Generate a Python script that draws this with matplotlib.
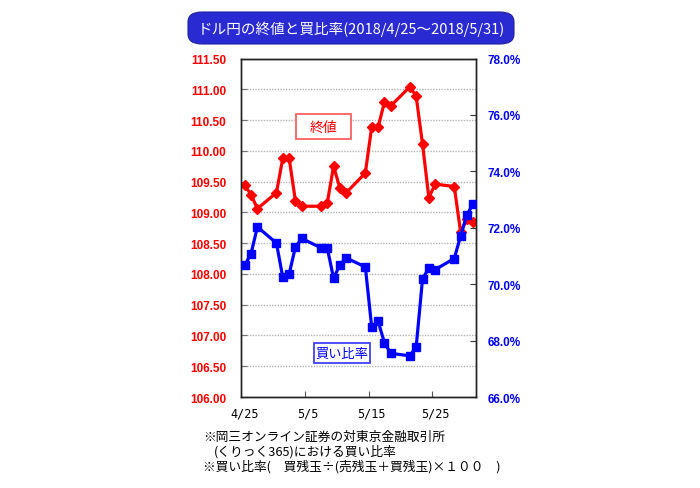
import numpy as np
import matplotlib
matplotlib.use("Agg")
import matplotlib.pyplot as plt
from matplotlib.patches import FancyBboxPatch, Rectangle
from matplotlib.ticker import MultipleLocator, FixedLocator, FixedFormatter

plt.rcParams['font.family'] = ['Noto Sans CJK JP', 'DejaVu Sans']

# days since 4/25 (trading days only)
days = [0, 1, 2, 5, 6, 7, 8, 9, 12, 13, 14, 15, 16, 19, 20, 21, 22, 23,
        26, 27, 28, 29, 30, 33, 34, 35, 36]
close = [109.44, 109.29, 109.06, 109.32, 109.88, 109.88, 109.18, 109.10, 109.10,
         109.15, 109.75, 109.39, 109.32, 109.64, 110.39, 110.38, 110.79, 110.73,
         111.04, 110.89, 110.11, 109.24, 109.46, 109.42, 108.68, 108.89, 108.84]
buy_ratio = [70.67, 71.08, 72.03, 71.46, 70.24, 70.36, 71.33, 71.62, 71.29,
             71.29, 70.21, 70.69, 70.93, 70.61, 68.48, 68.69, 67.93, 67.55,
             67.46, 67.77, 70.18, 70.58, 70.52, 70.91, 71.71, 72.47, 72.85]
xtick_days = [0, 10, 20, 30]
xtick_labels = ['4/25', '5/5', '5/15', '5/25']

title = 'ドル円の終値と買比率(2018/4/25～2018/5/31)'
notes = ['※岡三オンライン証券の対東京金融取引所',
         '(くりっく365)における買い比率',
         '※買い比率(　買残玉÷(売残玉＋買残玉)×１００　)']

RED = '#ff0000'
BLUE = '#0000ff'
W, H = 700, 489


def fx(px):
    return px / W


def fy(py):
    return 1 - py / H


fig = plt.figure(figsize=(7, 4.89), dpi=100)
ax = fig.add_axes([0.345, 0.186, 0.3357, 0.6923])
ax2 = ax.twinx()

ax.plot(days, close, color=RED, lw=2.3, marker='D', ms=5.5, zorder=3)
ax2.plot(days, buy_ratio, color=BLUE, lw=2.3, marker='s', ms=6, zorder=3)

ax.set_xlim(-0.5, 36.5)
ax.set_ylim(106.0, 111.5)
ax2.set_ylim(66.0, 78.0)

ax.yaxis.set_major_locator(MultipleLocator(0.5))
ax.yaxis.set_major_formatter(plt.FuncFormatter(lambda v, p: '%.2f' % v))
ax2.yaxis.set_major_locator(MultipleLocator(2))
ax2.yaxis.set_major_formatter(plt.FuncFormatter(lambda v, p: '%.1f%%' % v))

ax.grid(axis='y', color='#b4b4b4', lw=1, ls=(0, (1, 1)))
ax.set_axisbelow(True)

# tick marks between days, labels on the day itself
ax.xaxis.set_major_locator(FixedLocator([9.5, 19.5, 29.5]))
ax.xaxis.set_major_formatter(FixedFormatter(['', '', '']))
ax.xaxis.set_minor_locator(FixedLocator(xtick_days))
ax.xaxis.set_minor_formatter(FixedFormatter(xtick_labels))
ax.tick_params(axis='x', which='major', direction='in', length=4, color='#555555')
ax.tick_params(axis='x', which='minor', length=0, pad=7)
for lab in ax.get_xticklabels(minor=True):
    lab.set_fontfamily('DejaVu Sans Mono')
    lab.set_fontsize(8.5)

ax.tick_params(axis='y', direction='in', length=4, color='#777777', pad=11,
               labelcolor=RED)
ax2.tick_params(axis='y', direction='in', length=4, color='#333333', pad=8,
                labelcolor=BLUE)
for lab in ax.get_yticklabels() + ax2.get_yticklabels():
    lab.set_fontfamily('Liberation Sans')
    lab.set_fontweight('bold')
    lab.set_fontsize(8.5)

for a in (ax, ax2):
    for s in a.spines.values():
        s.set_color('#222222')
        s.set_linewidth(1)

# labels in boxes
fig.patches.append(Rectangle((fx(296), fy(140)), 55 / W, 25 / H, transform=fig.transFigure,
                             fc='white', ec='#ff6060', lw=1.3, zorder=5))
fig.text(fx(324), fy(128), '終値', color=RED, fontsize=10, ha='center', va='center',
         zorder=6)
fig.patches.append(Rectangle((fx(313.5), fy(364)), 56.5 / W, 20 / H, transform=fig.transFigure,
                             fc='white', ec='#4040ff', lw=1.3, zorder=5))
fig.text(fx(342), fy(354), '買い比率', color=BLUE, fontsize=9.5, ha='center', va='center',
         zorder=6)

# title box
box = FancyBboxPatch((fx(188), fy(45)), 326 / W, 32 / H,
                     boxstyle='round,pad=0,rounding_size=0.02',
                     transform=fig.transFigure, fc='#2a2ad2', ec='#2020a0', lw=0.8)
fig.patches.append(box)
fig.text(fx(351), fy(29), title, color='white', fontsize=10.5,
         ha='center', va='center')

fig.text(fx(203), fy(437), notes[0], fontsize=9.2, va='center')
fig.text(fx(214), fy(452), notes[1], fontsize=9.2, va='center')
fig.text(fx(203), fy(467), notes[2], fontsize=9.2, va='center')

fig.savefig('out.png', dpi=100)
